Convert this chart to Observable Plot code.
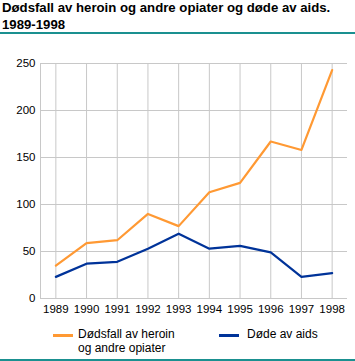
<!DOCTYPE html>
<html>
<head>
<meta charset="utf-8">
<script src="https://cdn.jsdelivr.net/npm/d3@7"></script>
<script src="https://cdn.jsdelivr.net/npm/@observablehq/plot@0.6"></script>
<style>
  html, body { margin: 0; padding: 0; background: #fff; }
  body { width: 355px; height: 361px; position: relative; overflow: hidden; font-family: "Liberation Sans", Arial, sans-serif; color: #000; }
  #title { position: absolute; left: 2px; top: 0; font-weight: bold; font-size: 13.2px; line-height: 16.5px; white-space: nowrap; }
  .rule { position: absolute; left: 0; width: 355px; height: 2px; background: #1a9090; }
  #chart { position: absolute; left: 0; top: 36px; }
  .leg { position: absolute; font-size: 12px; line-height: 14px; }
  .sw { position: absolute; height: 3px; width: 20px; }
</style>
</head>
<body>
<div id="title">Dødsfall av heroin og andre opiater og døde av aids.<br>1989-1998</div>
<div class="rule" style="top:32px"></div>
<div id="chart"></div>
<div id="legend"></div>
<div class="rule" style="top:359px"></div>
<script>
const years = [1989, 1990, 1991, 1992, 1993, 1994, 1995, 1996, 1997, 1998];
const heroin = [35, 59, 62, 90, 77, 113, 123, 167, 158, 243];
const aids = [23, 37, 39, 53, 69, 53, 56, 49, 23, 27];
const seriesNames = ["Dødsfall av heroin\nog andre opiater", "Døde av aids"];
const seriesColors = ["#ff9933", "#003399"];
const yTicks = [0, 50, 100, 150, 200, 250];

const data = [];
years.forEach((yr, i) => {
  data.push({year: yr, value: heroin[i], series: seriesNames[0]});
  data.push({year: yr, value: aids[i], series: seriesNames[1]});
});

const grid = "#c8c8c8";
const chart = Plot.plot({
  width: 355,
  height: 282,
  marginTop: 27,
  marginBottom: 20,
  marginLeft: 40,
  marginRight: 8,
  style: {fontFamily: "'Liberation Sans', Arial, sans-serif", fontSize: "11.5px", color: "#000", background: "transparent"},
  x: {domain: [years[0] - 0.5, years[years.length - 1] + 0.5]},
  y: {domain: [0, 250]},
  color: {domain: seriesNames, range: seriesColors},
  marks: [
    Plot.ruleY(yTicks, {stroke: grid, strokeWidth: 1, strokeOpacity: 1}),
    Plot.ruleX(years, {stroke: grid, strokeWidth: 1, strokeOpacity: 1}),
    Plot.ruleX([years[0] - 0.5], {stroke: grid, strokeWidth: 1, strokeOpacity: 1}),
    Plot.axisY(yTicks, {tickSize: 0, tickPadding: 5, label: null, fontSize: 11.5}),
    Plot.axisX(years, {tickSize: 0, tickPadding: 6, tickFormat: d => String(d), label: null, fontSize: 11.5}),
    Plot.line(data, {x: "year", y: "value", stroke: "series", z: "series", strokeWidth: 2.2, curve: "linear"})
  ]
});
document.getElementById("chart").appendChild(chart);

const legend = document.getElementById("legend");
const legPos = [{sx: 53, tx: 78}, {sx: 219, tx: 247}];
seriesNames.forEach((name, i) => {
  const sw = document.createElement("div");
  sw.className = "sw";
  sw.style.left = legPos[i].sx + "px";
  sw.style.top = "334px";
  sw.style.background = seriesColors[i];
  legend.appendChild(sw);
  const t = document.createElement("div");
  t.className = "leg";
  t.style.left = legPos[i].tx + "px";
  t.style.top = "327px";
  t.innerHTML = name.split("\n").join("<br>");
  legend.appendChild(t);
});
</script>
</body>
</html>
